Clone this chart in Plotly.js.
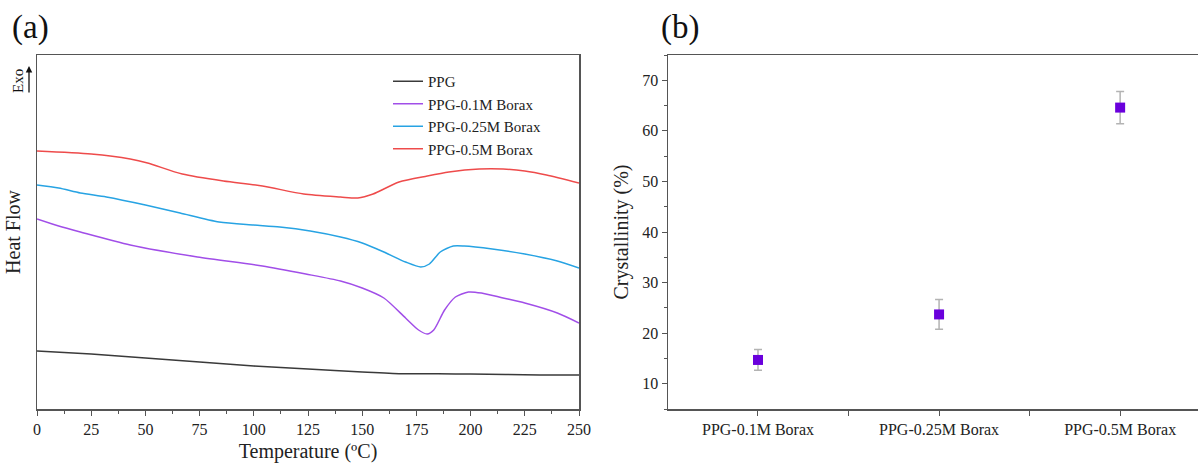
<!DOCTYPE html>
<html>
<head>
<meta charset="utf-8">
<script src="https://cdn.plot.ly/plotly-3.0.1.min.js"></script>
<style>html,body{margin:0;padding:0;background:#fff;}#chart{width:1198px;height:463px;}</style>
</head>
<body>
<div id="chart"></div>
<script>
// ---- Panel (a): DSC curves (heat flow, arbitrary units, offset) ----
const tPPG   = [0, 25, 50, 75, 100, 125, 150, 168, 185, 200, 232, 250];
const hfPPG  = [5.8, 5.5, 5.1, 4.7, 4.3, 4.0, 3.7, 3.52, 3.52, 3.5, 3.4, 3.4];

const tB01   = [0, 10, 20, 43, 74, 104, 124, 140, 150, 160, 170, 176, 180, 183, 188, 193, 199, 205, 215, 225, 240, 250];
const hfB01  = [19.0, 18.3, 17.7, 16.4, 15.2, 14.3, 13.5, 12.8, 12.1, 11.1, 9.1, 7.9, 7.5, 7.9, 9.9, 11.2, 11.7, 11.6, 11.1, 10.6, 9.6, 8.6];

const tB025  = [0, 10, 20, 32, 50, 66, 84, 100, 112, 126, 140, 150, 160, 170, 177, 181, 186, 192, 197, 210, 225, 240, 250];
const hfB025 = [22.4, 22.1, 21.6, 21.2, 20.4, 19.6, 18.7, 18.4, 18.2, 17.8, 17.2, 16.6, 15.7, 14.7, 14.2, 14.5, 15.7, 16.3, 16.3, 16.0, 15.5, 14.8, 14.1];

const tB05   = [0, 25, 43, 51, 67, 86, 104, 123, 140, 148, 155, 167, 180, 190, 204, 215, 225, 235, 250];
const hfB05  = [25.8, 25.5, 25.0, 24.6, 23.5, 22.8, 22.3, 21.5, 21.2, 21.1, 21.5, 22.7, 23.3, 23.7, 24.0, 24.0, 23.8, 23.4, 22.6];

const seriesNames = ["PPG", "PPG-0.1M Borax", "PPG-0.25M Borax", "PPG-0.5M Borax"];

// ---- Panel (b): crystallinity ----
const samples       = ["PPG-0.1M Borax", "PPG-0.25M Borax", "PPG-0.5M Borax"];
const crystallinity = [14.7, 23.7, 64.6];
const crystErr      = [2.05, 2.95, 3.2];

const F = "Liberation Serif, Times New Roman, serif";
const AX = "#555555";
const TXT = "#222222";

const lineTrace = (x, y, name, color) => ({
  x: x, y: y, name: name, type: "scatter", mode: "lines",
  line: {color: color, width: 1.5, shape: "spline", smoothing: 0.7},
  xaxis: "x", yaxis: "y"
});

const traces = [
  lineTrace(tPPG, hfPPG, seriesNames[0], "#3a3a3a"),
  lineTrace(tB01, hfB01, seriesNames[1], "#a14ee8"),
  lineTrace(tB025, hfB025, seriesNames[2], "#27a3e3"),
  lineTrace(tB05, hfB05, seriesNames[3], "#ee4b4b"),
  {
    x: samples.map((s, i) => i), y: crystallinity, type: "scatter", mode: "markers",
    marker: {symbol: "square", size: 10, color: "#6a00dc"},
    error_y: {type: "data", array: crystErr, visible: true, color: "#b3b3b3", thickness: 1.5, width: 4},
    xaxis: "x2", yaxis: "y2", showlegend: false
  }
];

const W = 1198, H = 463;
const px = v => v / W, py = v => (H - v) / H;

const layout = {
  width: W, height: H,
  margin: {l: 0, r: 0, t: 0, b: 0},
  paper_bgcolor: "#fff", plot_bgcolor: "#fff",
  font: {family: F, size: 16, color: TXT},
  showlegend: true,
  legend: {
    x: px(388), y: py(65), xanchor: "left", yanchor: "top",
    bgcolor: "rgba(0,0,0,0)", font: {family: F, size: 15, color: TXT},
    tracegroupgap: 0, itemwidth: 30
  },
  xaxis: {
    domain: [px(37), px(579)], range: [0, 250], anchor: "y",
    showline: true, mirror: true, linecolor: AX, linewidth: 1.5,
    showgrid: false, zeroline: false,
    tickmode: "linear", tick0: 0, dtick: 25,
    ticks: "outside", ticklen: 5, tickwidth: 1, tickcolor: AX,
    minor: {ticks: "outside", dtick: 12.5, tick0: 0, ticklen: 3, tickcolor: AX, showgrid: false},
    tickfont: {family: F, size: 16, color: TXT},
    title: {text: "Temperature (ºC)", font: {family: F, size: 20, color: TXT}, standoff: 8}
  },
  yaxis: {
    domain: [py(409), py(55)], range: [0, 35.4], anchor: "x",
    showline: true, mirror: true, linecolor: AX, linewidth: 1.5,
    showgrid: false, zeroline: false, showticklabels: false, ticks: "",
    title: {text: "Heat Flow", font: {family: F, size: 20, color: TXT}, standoff: 9}
  },
  xaxis2: {
    domain: [px(668), 1], range: [-0.497, 2.43], anchor: "y2",
    showline: true, mirror: true, linecolor: AX, linewidth: 1.5,
    showgrid: false, zeroline: false,
    tickmode: "array", tickvals: [0, 1, 2], ticktext: samples,
    ticks: "outside", ticklen: 5, tickwidth: 1, tickcolor: AX,
    minor: {tickmode: "array", tickvals: [0.5, 1.5], ticks: "outside", ticklen: 5, tickcolor: AX, showgrid: false},
    tickfont: {family: F, size: 16, color: TXT}
  },
  yaxis2: {
    domain: [py(409), py(55)], range: [5, 75], anchor: "x2",
    showline: true, mirror: true, linecolor: AX, linewidth: 1.5,
    showgrid: false, zeroline: false,
    tickmode: "linear", tick0: 0, dtick: 10,
    ticks: "outside", ticklen: 5, tickwidth: 1, tickcolor: AX,
    minor: {ticks: "outside", dtick: 5, tick0: 0, ticklen: 3, tickcolor: AX, showgrid: false},
    tickfont: {family: F, size: 16, color: TXT},
    title: {text: "Crystallinity (%)", font: {family: F, size: 20, color: TXT}, standoff: 8}
  },
  annotations: [
    {text: "(a)", xref: "paper", yref: "paper", x: px(10), y: py(7), xanchor: "left", yanchor: "top",
     showarrow: false, font: {family: F, size: 33, color: "#111"}},
    {text: "(b)", xref: "paper", yref: "paper", x: px(659), y: py(7), xanchor: "left", yanchor: "top",
     showarrow: false, font: {family: F, size: 33, color: "#111"}},
    {text: "Exo", xref: "paper", yref: "paper", x: px(18), y: py(81), xanchor: "center", yanchor: "middle",
     textangle: -90, showarrow: false, font: {family: F, size: 15, color: "#111"}},
    {text: "", xref: "paper", yref: "paper", x: px(29), y: py(66), ax: 0, ay: 28,
     showarrow: true, arrowhead: 2, arrowsize: 1, arrowwidth: 1.3, arrowcolor: "#111"}
  ]
};

Plotly.newPlot("chart", traces, layout, {displayModeBar: false, staticPlot: true});
</script>
</body>
</html>
